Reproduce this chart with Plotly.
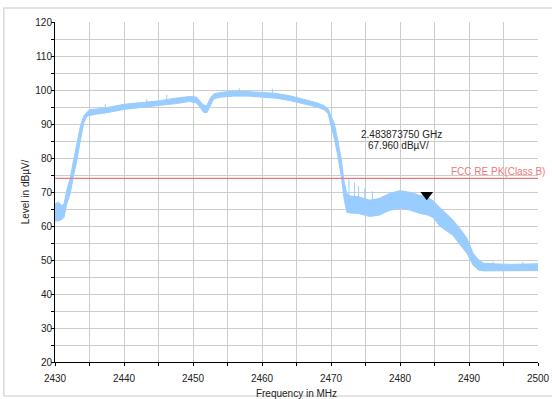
import plotly.graph_objects as go

# ---- data ----
freq_mhz = [2430.0, 2430.5, 2431.0, 2431.3, 2431.7, 2432.2, 2432.7, 2433.2, 2433.7, 2434.2,
            2434.6, 2435.0, 2436.0, 2437.5, 2440.0, 2442.5, 2445.0, 2447.5, 2449.5, 2450.5,
            2451.0, 2451.5, 2452.0, 2452.5, 2453.0, 2454.0, 2456.0, 2458.0, 2460.0, 2462.0,
            2464.0, 2466.0, 2468.0, 2469.0, 2469.6, 2470.0, 2470.5, 2471.0, 2471.5, 2471.9,
            2472.3, 2472.8, 2474.0, 2475.6, 2477.0, 2478.5, 2480.0, 2481.4, 2482.9, 2483.9,
            2484.8, 2485.8, 2486.7, 2487.7, 2488.7, 2489.7, 2490.6, 2491.4, 2492.2, 2494.0,
            2496.0, 2498.0, 2500.0]
level_low = [61.5, 61.5, 62.0, 62.5, 66.5, 69.5, 75.0, 79.5, 85.5, 90.5,
             92.2, 92.5, 92.9, 93.3, 94.3, 94.8, 95.3, 96.0, 96.6, 96.2,
             95.0, 93.5, 93.3, 95.2, 97.4, 97.9, 98.2, 98.2, 98.0, 97.6,
             96.9, 96.0, 95.0, 94.2, 93.0, 89.5, 85.5, 80.5, 74.5, 68.0,
             64.0, 63.8, 63.7, 62.8, 63.2, 64.6, 65.2, 64.7, 63.7, 63.3,
             62.5, 59.9, 58.7, 57.2, 54.5, 52.0, 48.5, 47.0, 46.8, 46.8,
             46.8, 46.8, 46.9]
level_high = [66.5, 67.0, 66.0, 66.5, 70.5, 74.0, 79.5, 84.0, 89.5, 92.5,
              93.3, 94.2, 94.4, 94.8, 95.8, 96.3, 96.8, 97.6, 98.1, 97.9,
              96.8, 95.6, 95.4, 97.6, 98.8, 99.3, 99.7, 99.6, 99.3, 99.0,
              98.3, 97.3, 96.2, 95.4, 94.4, 92.5, 90.0, 85.0, 79.5, 73.0,
              69.5, 68.8, 68.6, 67.6, 68.1, 69.6, 70.4, 69.9, 69.0, 68.7,
              67.4, 65.4, 63.7, 61.7, 59.2, 56.4, 52.0, 50.0, 49.0, 48.8,
              48.7, 48.8, 48.9]

spike_freq = [2437.3, 2443.3, 2446.2, 2456.7, 2461.5, 2472.6, 2473.4, 2474.0, 2474.9, 2476.0, 2493.5, 2497.8]
spike_low = [94.5, 96.0, 97.2, 99.2, 99.0, 67.0, 67.0, 67.0, 67.0, 66.5, 48.0, 48.0]
spike_top = [95.9, 97.3, 98.6, 100.5, 100.4, 74.0, 72.8, 71.8, 71.0, 70.2, 49.6, 49.5]

limit_level = 74.0
limit_label = "FCC RE PK(Class B)"
marker_freq = 2483.87375
marker_level = 67.96
marker_lines = ["2.483873750 GHz", "67.960 dBµV/"]

x_range = [2430, 2500]
y_range = [20, 120]

# ---- styling ----
TRACE = "rgb(153,204,255)"
LIMIT = "rgb(238,120,120)"
GRID = "rgb(205,205,205)"
FONT = "Liberation Sans, Arial, sans-serif"

fig = go.Figure()

fig.add_trace(go.Scatter(x=freq_mhz, y=level_low, mode="lines",
                         line=dict(color=TRACE, width=1), hoverinfo="skip", showlegend=False))
fig.add_trace(go.Scatter(x=freq_mhz, y=level_high, mode="lines", fill="tonexty",
                         fillcolor=TRACE, line=dict(color=TRACE, width=1),
                         hoverinfo="skip", showlegend=False))

sx, sy = [], []
for f, lo, hi in zip(spike_freq, spike_low, spike_top):
    sx += [f, f, None]
    sy += [lo, hi, None]
fig.add_trace(go.Scatter(x=sx, y=sy, mode="lines", line=dict(color=TRACE, width=1),
                         hoverinfo="skip", showlegend=False))

fig.add_trace(go.Scatter(x=x_range, y=[limit_level, limit_level], mode="lines",
                         line=dict(color=LIMIT, width=1.3), showlegend=False))

fig.add_trace(go.Scatter(x=[marker_freq], y=[marker_level + 1.2], mode="markers",
                         marker=dict(symbol="triangle-down", size=11, color="black"),
                         showlegend=False))

fig.add_annotation(x=x_range[1], y=limit_level, text=limit_label, showarrow=False,
                   xanchor="right", yanchor="bottom", xshift=9, yshift=-1,
                   font=dict(family=FONT, size=10, color=LIMIT))
fig.add_annotation(x=2480.17, y=86.8, text=marker_lines[0], showarrow=False,
                   xanchor="center", yanchor="middle",
                   font=dict(family=FONT, size=10, color="#222222"))
fig.add_annotation(x=2479.74, y=83.6, text=marker_lines[1], showarrow=False,
                   xanchor="center", yanchor="middle",
                   font=dict(family=FONT, size=10, color="#222222"))

# figure border
fig.add_shape(type="rect", xref="paper", yref="paper",
              x0=-0.106, x1=1.04, y0=-0.10, y1=1.041,
              line=dict(color="rgb(218,218,218)", width=1.5), layer="below")

axis_common = dict(showgrid=True, gridcolor=GRID, gridwidth=1, zeroline=False,
                   showline=True, linecolor="black", linewidth=1, automargin=False,
                   ticks="outside", ticklen=3, tickcolor="black",
                   tickfont=dict(family=FONT, size=10, color="#222222"))

fig.update_xaxes(range=x_range, dtick=10, tick0=2430, ticklabelstandoff=4,
                 minor=dict(dtick=5, showgrid=True, gridcolor=GRID, ticks="outside",
                            ticklen=3, tickcolor="black"),
                 title=dict(text="Frequency in MHz", standoff=12,
                            font=dict(family=FONT, size=10, color="#222222")),
                 **axis_common)
fig.update_yaxes(range=y_range, dtick=10, tick0=20, ticklabelstandoff=-3,
                 minor=dict(dtick=5, showgrid=True, gridcolor=GRID, ticks="outside",
                            ticklen=3, tickcolor="black"),
                 title=dict(text="Level in dBµV/", standoff=3,
                            font=dict(family=FONT, size=10, color="#222222")),
                 **axis_common)

fig.update_layout(width=552, height=399,
                  margin=dict(l=55, r=14, t=22, b=37),
                  plot_bgcolor="white", paper_bgcolor="white",
                  showlegend=False)

fig.write_html("out.html", config={"displayModeBar": False},
               post_script="document.body.style.margin='0';")
